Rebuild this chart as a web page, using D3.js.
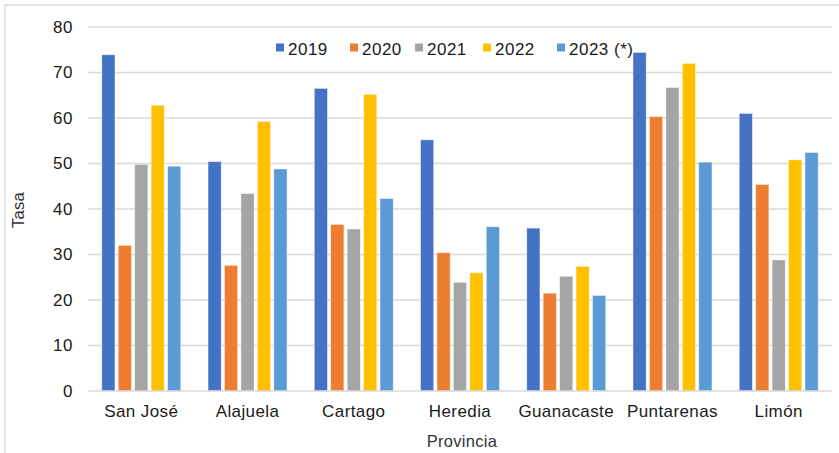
<!DOCTYPE html>
<html>
<head>
<meta charset="utf-8">
<script src="https://cdn.jsdelivr.net/npm/d3@7"></script>
<style>
  html, body { margin: 0; padding: 0; background: #fff; }
  svg { display: block; font-family: "Liberation Sans", Arial, sans-serif; }
</style>
</head>
<body>
<svg id="chart" width="839" height="453"></svg>
<script>
// Tasa por provincia, 2019-2023
const provincias = ["San José", "Alajuela", "Cartago", "Heredia", "Guanacaste", "Puntarenas", "Limón"];
const years = ["2019", "2020", "2021", "2022", "2023 (*)"];
const v2019 = [73.9, 50.4, 66.5, 55.2, 35.8, 74.4, 61.0];
const v2020 = [32.0, 27.6, 36.6, 30.4, 21.5, 60.3, 45.4];
const v2021 = [49.8, 43.4, 35.6, 23.9, 25.2, 66.7, 28.8];
const v2022 = [62.8, 59.2, 65.2, 26.0, 27.4, 72.0, 50.8];
const v2023 = [49.4, 48.8, 42.3, 36.1, 21.0, 50.3, 52.4];
const yTicks = [0, 10, 20, 30, 40, 50, 60, 70, 80];
const colors = ["#4472C4", "#ED7D31", "#A5A5A5", "#FFC000", "#5B9BD5"];

const seriesValues = [v2019, v2020, v2021, v2022, v2023];
const svg = d3.select("#chart");

// chart frame
svg.append("path")
  .attr("d", "M5,453 V5 H839")
  .attr("fill", "none")
  .attr("stroke", "#d9d9d9")
  .attr("stroke-width", 1.5);

const plot = { left: 88, right: 832, top: 27, bottom: 391 };

const x0 = d3.scaleBand()
  .domain(provincias)
  .range([plot.left, plot.right])
  .paddingInner(0.257)
  .paddingOuter(0.13);

const x1 = d3.scaleBand()
  .domain(years)
  .range([0, x0.bandwidth()])
  .paddingInner(0.2);

const y = d3.scaleLinear().domain([0, 80]).range([plot.bottom, plot.top]);

// gridlines
svg.append("g")
  .selectAll("line")
  .data(yTicks.filter(t => t > 0))
  .join("line")
  .attr("x1", plot.left).attr("x2", plot.right)
  .attr("y1", d => y(d)).attr("y2", d => y(d))
  .attr("stroke", "#d9d9d9").attr("stroke-width", 1.5);

// y axis labels
const yAxis = d3.axisLeft(y).tickValues(yTicks).tickSize(0).tickPadding(0);
svg.append("g")
  .attr("transform", `translate(${plot.left - 15},0)`)
  .call(yAxis)
  .call(g => g.select(".domain").remove())
  .call(g => g.selectAll("text")
    .attr("font-size", 17)
    .attr("letter-spacing", 0.5)
    .attr("fill", "#1a1a1a")
    .attr("font-family", "Liberation Sans, Arial, sans-serif"));

// bars
const groups = svg.append("g")
  .selectAll("g")
  .data(provincias)
  .join("g")
  .attr("transform", d => `translate(${x0(d)},0)`);

groups.selectAll("rect")
  .data((p, i) => years.map((yr, s) => ({ yr, s, v: seriesValues[s][i] })))
  .join("rect")
  .attr("x", d => x1(d.yr))
  .attr("width", x1.bandwidth())
  .attr("y", d => y(d.v))
  .attr("height", d => y(0) - y(d.v))
  .attr("fill", d => colors[d.s])
  .attr("stroke", "#fff")
  .attr("stroke-opacity", 0.5)
  .attr("stroke-width", 0.8);

// x axis baseline and labels
svg.append("line")
  .attr("x1", plot.left).attr("x2", plot.right)
  .attr("y1", y(0)).attr("y2", y(0))
  .attr("stroke", "#d9d9d9").attr("stroke-width", 1.5);

const xAxis = d3.axisBottom(x0).tickSize(0).tickPadding(0);
svg.append("g")
  .attr("transform", `translate(0,${plot.bottom + 14})`)
  .call(xAxis)
  .call(g => g.select(".domain").remove())
  .call(g => g.selectAll("text")
    .attr("font-size", 17)
    .attr("letter-spacing", 0.4)
    .attr("fill", "#1a1a1a")
    .attr("font-family", "Liberation Sans, Arial, sans-serif"));

// axis titles
svg.append("text")
  .attr("x", 462).attr("y", 447)
  .attr("text-anchor", "middle")
  .attr("font-size", 16.5)
  .attr("letter-spacing", 0.3)
  .attr("fill", "#333")
  .text("Provincia");

svg.append("text")
  .attr("transform", "translate(24,210) rotate(-90)")
  .attr("text-anchor", "middle")
  .attr("font-size", 16.5)
  .attr("letter-spacing", 0.3)
  .attr("fill", "#333")
  .text("Tasa");

// legend
const legendX = [276, 350, 415, 483, 557];
const legend = svg.append("g")
  .selectAll("g")
  .data(years)
  .join("g")
  .attr("transform", (d, i) => `translate(${legendX[i]},0)`);
legend.append("rect")
  .attr("x", 0).attr("y", 43.5)
  .attr("width", 8).attr("height", 8)
  .attr("fill", (d, i) => colors[i]);
legend.append("text")
  .attr("x", 12).attr("y", 55)
  .attr("font-size", 17)
  .attr("letter-spacing", 0.5)
  .attr("fill", "#1a1a1a")
  .text(d => d);
</script>
</body>
</html>
